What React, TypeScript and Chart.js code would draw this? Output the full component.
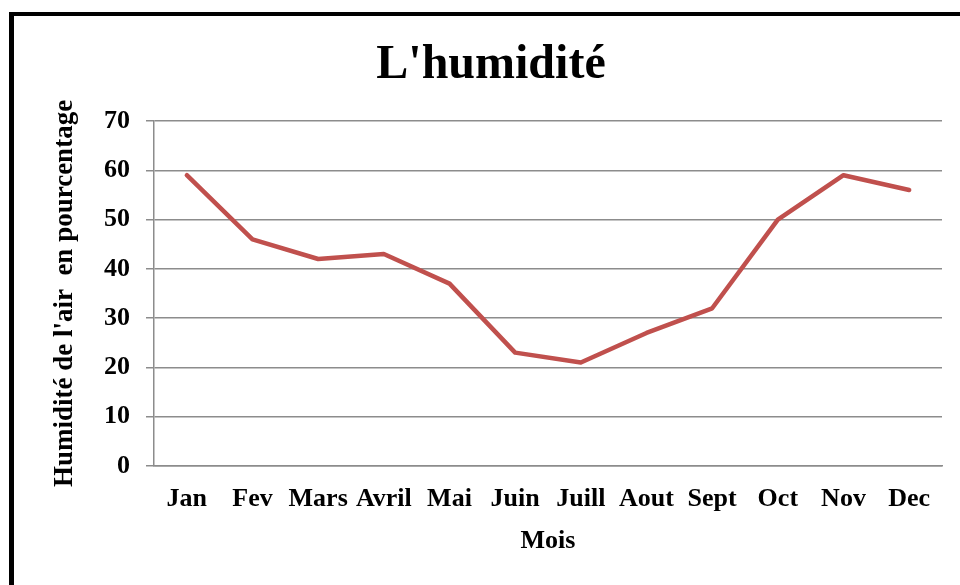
import React, { useEffect, useRef } from "react";
import { Chart, registerables } from "chart.js";

Chart.register(...registerables);

const chartTitle = "L'humidité";
const months = ["Jan", "Fev", "Mars", "Avril", "Mai", "Juin", "Juill", "Aout", "Sept", "Oct", "Nov", "Dec"];
const humidity = [59, 46, 42, 43, 37, 23, 21, 27, 32, 50, 59, 56];
const yMin = 0;
const yMax = 70;
const yStep = 10;

const FONT = "'Liberation Serif', 'Times New Roman', serif";

const framePlugin = {
  id: "frameAndTitle",
  beforeDraw(chart: any) {
    const ctx = chart.ctx;
    ctx.save();
    ctx.fillStyle = "#ffffff";
    ctx.fillRect(0, 0, chart.width, chart.height);
    ctx.fillStyle = "#000000";
    ctx.fillRect(9, 12, 5, chart.height - 12);
    ctx.fillRect(9, 12, chart.width - 9, 4);
    ctx.restore();
  },
  afterDraw(chart: any) {
    const ctx = chart.ctx;
    ctx.save();
    ctx.fillStyle = "#000000";
    ctx.font = `bold 48px ${FONT}`;
    ctx.textAlign = "center";
    ctx.textBaseline = "middle";
    ctx.fillText(chartTitle, 491, 66);
    ctx.restore();
  },
};

export default function App() {
  const ref = useRef<HTMLCanvasElement | null>(null);
  useEffect(() => {
    if (!ref.current) return;
    const chart = new Chart(ref.current, {
      type: "line",
      data: {
        labels: months,
        datasets: [
          {
            data: humidity,
            borderColor: "#C0504D",
            backgroundColor: "#C0504D",
            borderWidth: 4.5,
            pointRadius: 0,
            tension: 0,
            borderCapStyle: "round",
            borderJoinStyle: "round",
          },
        ],
      },
      plugins: [framePlugin],
      options: {
        responsive: false,
        animation: false,
        layout: { padding: { left: 22, right: 18, top: 121, bottom: 0 } },
        plugins: {
          legend: { display: false },
          tooltip: { enabled: false },
          title: { display: false },
        },
        scales: {
          x: {
            offset: true,
            grid: { display: false, drawTicks: false },
            border: { display: true, color: "#8c8c8c", width: 1.5 },
            ticks: {
              color: "#000",
              font: { family: FONT, size: 26, weight: "bold" },
              padding: 18,
              maxRotation: 0,
              autoSkip: false,
            },
            title: {
              display: true,
              text: "Mois",
              color: "#000",
              font: { family: FONT, size: 26, weight: "bold" },
              padding: { top: 28, bottom: 28 },
            },
            afterFit(scale: any) {
              scale.height = 119;
            },
          },
          y: {
            min: yMin,
            max: yMax,
            grid: { color: "#8c8c8c", lineWidth: 1.5, tickLength: 8, drawTicks: true },
            border: { display: true, color: "#8c8c8c", width: 1.5 },
            ticks: {
              stepSize: yStep,
              color: "#000",
              font: { family: FONT, size: 26, weight: "bold" },
              padding: 16,
            },
            title: {
              display: true,
              text: "Humidité de l'air  en pourcentage",
              color: "#000",
              font: { family: FONT, size: 27, weight: "bold" },
              padding: { top: 27, bottom: 27 },
            },
            afterFit(scale: any) {
              scale.width = 132;
            },
          },
        },
      },
    });
    return () => chart.destroy();
  }, []);
  return (
    <div style={{ position: "fixed", left: 0, top: 0, width: 960, height: 585, overflow: "hidden" }}>
      <canvas ref={ref} width={960} height={585} style={{ display: "block", width: 960, height: 585 }} />
    </div>
  );
}
